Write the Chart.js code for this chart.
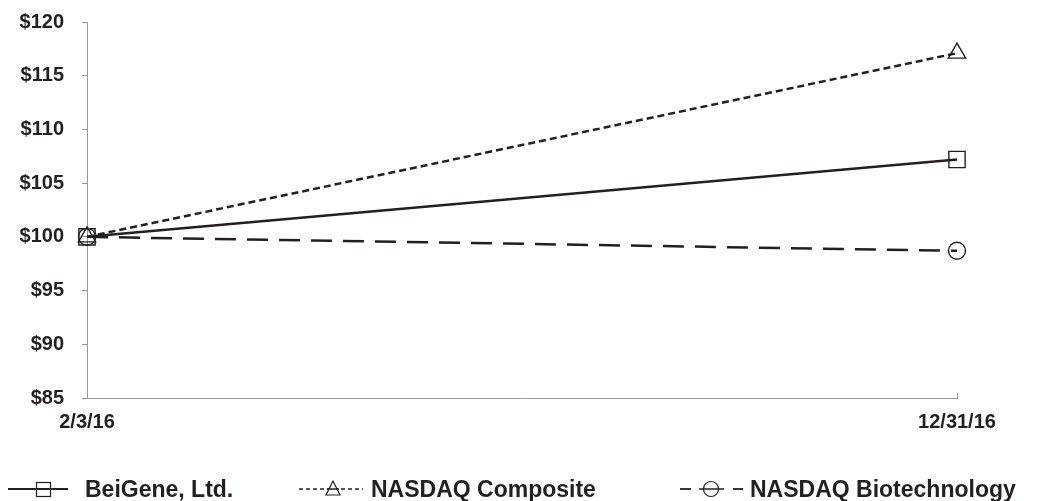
<!DOCTYPE html>
<html>
<head>
<meta charset="utf-8">
<script src="https://cdn.jsdelivr.net/npm/chart.js@4.4.1/dist/chart.umd.min.js"></script>
<style>
  html, body { margin: 0; padding: 0; background: #fff; }
  #wrap { position: relative; width: 1037px; height: 501px; }
  #chart { position: absolute; left: 0; top: 0; }
  .legend-item { position: absolute; top: 475px; height: 28px; display: flex; align-items: center; }
  .legend-item svg { display: block; }
  .legend-item span {
    font: bold 23px "Liberation Sans", Arial, sans-serif;
    color: #231f20;
    white-space: nowrap;
  }
</style>
</head>
<body>
<div id="wrap">
  <canvas id="chart" width="1037" height="501"></canvas>
  <div class="legend-item" style="left:8px">
    <svg width="77" height="28">
      <line x1="0" y1="14" x2="60" y2="14" stroke="#231f20" stroke-width="2"/>
      <rect x="28.5" y="7.5" width="14" height="14" fill="none" stroke="#231f20" stroke-width="1.2"/>
    </svg>
    <span id="lg0"></span>
  </div>
  <div class="legend-item" style="left:299px">
    <svg width="72" height="28">
      <line x1="0" y1="14" x2="64" y2="14" stroke="#231f20" stroke-width="1.6" stroke-dasharray="4 3"/>
      <polygon points="34,6 41,20 27,20" fill="#fff" stroke="#231f20" stroke-width="1.2"/>
      <line x1="28" y1="14" x2="40" y2="14" stroke="#231f20" stroke-width="1.5"/>
    </svg>
    <span id="lg1"></span>
  </div>
  <div class="legend-item" style="left:680px">
    <svg width="70" height="28">
      <line x1="0" y1="14" x2="11" y2="14" stroke="#231f20" stroke-width="1.8"/>
      <circle cx="31" cy="14" r="7.5" fill="none" stroke="#231f20" stroke-width="1.2"/>
      <line x1="19" y1="14" x2="44" y2="14" stroke="#231f20" stroke-width="1.5"/>
      <line x1="53" y1="14" x2="63" y2="14" stroke="#231f20" stroke-width="1.8"/>
    </svg>
    <span id="lg2"></span>
  </div>
</div>
<script>
const dates = ["2/3/16", "12/31/16"];
const seriesNames = ["BeiGene, Ltd.", "NASDAQ Composite", "NASDAQ Biotechnology"];
const beigene = [100, 107.2];
const nasdaqComposite = [100, 117.1];
const nasdaqBiotech = [100, 98.7];
const yMin = 85;
const yMax = 120;
const yStep = 5;

const INK = "#231f20";
const AXIS = "#9a9a9a";
const FONT = { family: "'Liberation Sans', Arial, sans-serif", size: 20, weight: "bold" };

seriesNames.forEach((name, i) => {
  document.getElementById("lg" + i).textContent = name;
});

// small upward tick at the right end of the x axis
const endTick = {
  id: "endTick",
  afterDraw(chart) {
    const x = chart.scales.x;
    const px = Math.round(x.getPixelForValue(dates.length - 1)) + 0.5;
    const ctx = chart.ctx;
    ctx.save();
    ctx.strokeStyle = AXIS;
    ctx.lineWidth = 1;
    ctx.beginPath();
    ctx.moveTo(px, chart.chartArea.bottom);
    ctx.lineTo(px, chart.chartArea.bottom - 5);
    ctx.stroke();
    ctx.restore();
  }
};

function lineSet(label, data, dash, style, radius) {
  return {
    label,
    data,
    borderColor: INK,
    borderWidth: 2.5,
    borderDash: dash,
    tension: 0,
    pointStyle: style,
    pointRadius: radius,
    pointHoverRadius: radius,
    pointBorderColor: INK,
    pointBorderWidth: 1.4,
    pointBackgroundColor: "rgba(0,0,0,0)"
  };
}

new Chart(document.getElementById("chart"), {
  type: "line",
  data: {
    labels: dates,
    datasets: [
      lineSet(seriesNames[1], nasdaqComposite, [7, 4], "triangle", 10),
      lineSet(seriesNames[2], nasdaqBiotech, [21, 11], "circle", 8.5),
      lineSet(seriesNames[0], beigene, [], "rect", 11.5)
    ]
  },
  options: {
    responsive: false,
    animation: false,
    layout: { padding: { top: 22, right: 80, bottom: 63, left: 0 } },
    plugins: {
      legend: { display: false },
      tooltip: { enabled: false }
    },
    scales: {
      x: {
        type: "category",
        offset: false,
        grid: { display: false, drawTicks: false },
        border: { display: true, color: AXIS, width: 1 },
        ticks: { color: INK, font: FONT, padding: 12, maxRotation: 0, autoSkip: false },
        afterFit(s) { s.height = 40; }
      },
      y: {
        min: yMin,
        max: yMax,
        grid: { drawOnChartArea: false, drawTicks: true, tickLength: 5, color: AXIS },
        border: { display: true, color: AXIS, width: 1 },
        ticks: {
          stepSize: yStep,
          color: INK,
          font: FONT,
          padding: 18,
          callback: (v) => "$" + v
        },
        afterFit(s) {
          s.width = 87;
          s.paddingTop = 0;
          s.paddingBottom = 0;
        }
      }
    }
  },
  plugins: [endTick]
});
</script>
</body>
</html>
